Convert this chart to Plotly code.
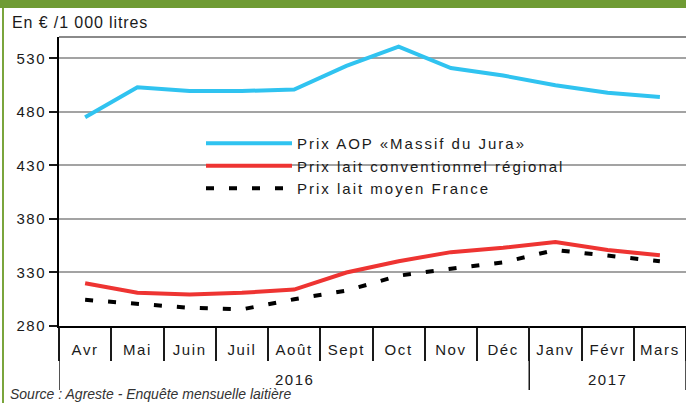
import plotly.graph_objects as go

# ---- data ----
months = ["Avr", "Mai", "Juin", "Juil", "Août", "Sept", "Oct", "Nov", "Déc", "Janv", "Févr", "Mars"]
years = ["2016", "2017"]
year_counts = [9, 3]
aop_jura = [475, 503, 499.5, 499.5, 501, 523, 541, 521, 514, 505, 498, 494]
conv_regional = [320, 311, 309.5, 311, 314, 330, 340.5, 349, 353, 358.5, 351, 346]
moyen_france = [304.5, 300.5, 297, 295.5, 305, 313, 327, 333.5, 339.5, 351, 346, 340.5]
y_ticks = [280, 330, 380, 430, 480, 530]
series_names = ["Prix AOP «Massif du Jura»", "Prix lait conventionnel régional", "Prix lait moyen France"]

W, H = 686, 403
ML, MR, MT, MB = 59, 0, 37, 77
PW, PH = W - ML - MR, H - MT - MB
FONT = "Liberation Sans, Arial, sans-serif"


def px_x(px):
    return (px - ML) / PW


def px_y(py):
    return (H - MB - py) / PH


def spaced(t, s=2.0):
    return f'<span style="letter-spacing:{s}px">{t}</span>'


fig = go.Figure()
fig.add_trace(go.Scatter(x=months, y=aop_jura, mode="lines", name=spaced(series_names[0], 2.0),
                         line=dict(color="#30c3f0", width=4)))
fig.add_trace(go.Scatter(x=months, y=conv_regional, mode="lines", name=spaced(series_names[1], 2.0),
                         line=dict(color="#ee3432", width=4)))
fig.add_trace(go.Scatter(x=months, y=moyen_france, mode="lines", name=spaced(series_names[2], 2.0),
                         line=dict(color="#000000", width=4, dash="8px,15px")))

shapes = []
# green frame
shapes.append(dict(type="rect", xref="paper", yref="paper", x0=px_x(0), x1=px_x(W), y0=px_y(0), y1=px_y(8),
                   fillcolor="#6f9b34", line=dict(width=0), layer="above"))
shapes.append(dict(type="line", xref="paper", yref="paper", x0=px_x(3), x1=px_x(3), y0=px_y(8), y1=px_y(H),
                   line=dict(color="#7aa53c", width=2)))
# top border of plot
shapes.append(dict(type="line", xref="paper", yref="paper", x0=0, x1=1, y0=1, y1=1,
                   line=dict(color="#8a8a8a", width=2)))
# legend background (hides grid line behind legend)
shapes.append(dict(type="rect", xref="paper", yref="paper", x0=px_x(168), x1=px_x(585),
                   y0=px_y(204), y1=px_y(128), fillcolor="white", line=dict(width=0), layer="between"))
# year dividers
pos = -0.5
annotations = []
bounds = [pos]
for yname, cnt in zip(years, year_counts):
    center = pos + cnt / 2
    annotations.append(dict(x=center, xref="x", y=px_y(379), yref="paper", text=spaced(yname, 1.5),
                            showarrow=False, yanchor="middle", xanchor="center",
                            font=dict(family=FONT, size=15, color="#1a1a1a")))
    pos += cnt
    bounds.append(pos)
for b in bounds:
    shapes.append(dict(type="line", xref="x", yref="paper", x0=b, x1=b, y0=0, y1=px_y(390),
                       line=dict(color="#1a1a1a", width=1.5)))

annotations.append(dict(x=px_x(10), y=px_y(22), xref="paper", yref="paper", xanchor="left", yanchor="middle",
                        text=spaced("En € /1 000 litres", 0.9), showarrow=False,
                        font=dict(family=FONT, size=16, color="#1a1a1a")))
annotations.append(dict(x=px_x(8), y=px_y(394), xref="paper", yref="paper", xanchor="left", yanchor="middle",
                        text="<i>Source : Agreste - Enquête mensuelle laitière</i>", showarrow=False,
                        font=dict(family=FONT, size=14, color="#333333")))

fig.update_layout(
    width=W, height=H,
    margin=dict(l=ML, r=MR, t=MT, b=MB, pad=0),
    paper_bgcolor="white", plot_bgcolor="white",
    font=dict(family=FONT, color="#1a1a1a"),
    showlegend=True,
    legend=dict(x=px_x(201), y=px_y(127), xanchor="left", yanchor="top", bgcolor="rgba(0,0,0,0)",
                borderwidth=0, itemwidth=86, font=dict(family=FONT, size=15, color="#1a1a1a"),
                tracegroupgap=0),
    xaxis=dict(type="category", categoryorder="array", categoryarray=months,
               range=[-0.5, len(months) - 0.5],
               tickmode="array", tickvals=months, ticktext=[spaced(m, 1.6) for m in months],
               tickson="boundaries", ticks="outside", ticklen=33, tickwidth=1.5, tickcolor="#1a1a1a",
               ticklabelstandoff=9,
               showline=True, linecolor="#000000", linewidth=2, showgrid=False, zeroline=False,
               tickfont=dict(family=FONT, size=15, color="#1a1a1a")),
    yaxis=dict(range=[280, 550], tickmode="array", tickvals=y_ticks,
               ticktext=[spaced(str(v), 1.5) for v in y_ticks],
               ticks="outside", ticklen=8, tickwidth=1.5, tickcolor="#1a1a1a",
               showline=True, linecolor="#000000", linewidth=2,
               showgrid=True, gridcolor="#a3a3a3", gridwidth=1.5, zeroline=False,
               tickfont=dict(family=FONT, size=15, color="#1a1a1a")),
    shapes=shapes, annotations=annotations,
)

fig.write_html("out.html", config={"displayModeBar": False},
               post_script="document.body.style.margin='0';document.body.style.overflow='hidden';")
